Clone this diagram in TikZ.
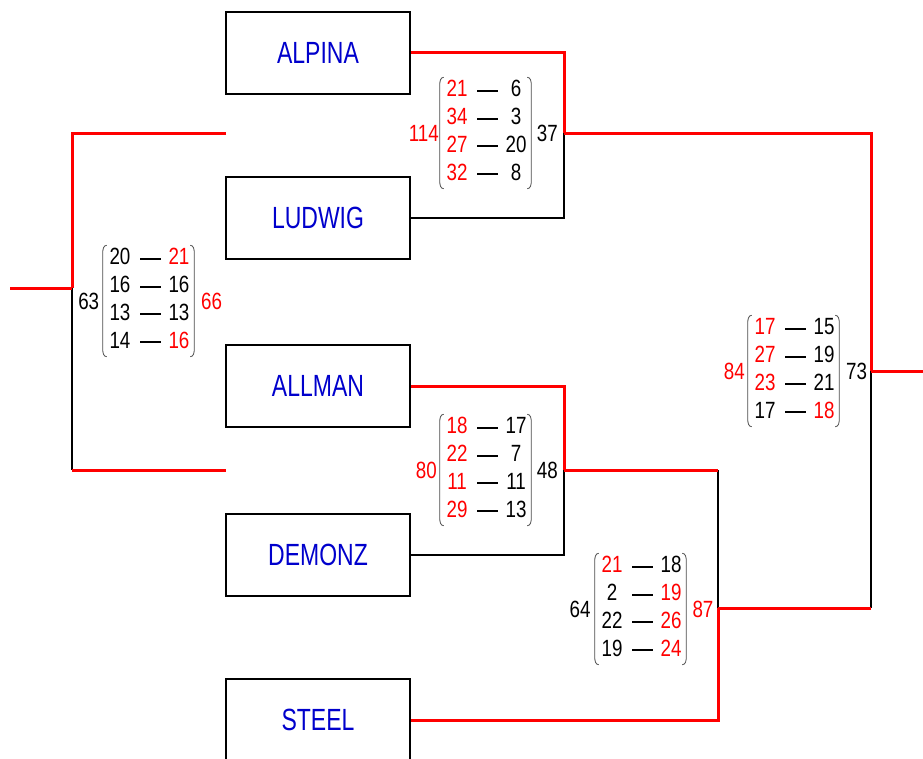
\documentclass[tikz,border=0pt]{standalone}
\usepackage{fontspec}
\setmainfont{Liberation Sans}[FakeStretch=0.75]
\newfontfamily\numfont{Liberation Sans}[FakeStretch=0.8]
\usepackage{array}
\usetikzlibrary{positioning}

\definecolor{teamblue}{RGB}{0,0,204}
\newcommand\win[1]{\textcolor{red}{#1}}
\newcommand\scoredash{\rule[3.8pt]{15.5pt}{1.5pt}}
\newcommand\scorerows[1]{\begin{tabular}{@{}wc{25.5pt}@{}wc{20.25pt}@{}wc{22.5pt}@{}}#1\end{tabular}}
\newcommand\parens[1]{%
  \draw[paren] ([xshift=3pt]#1.north west) to[out=180,in=90] ([yshift=-6pt]#1.north west)
    -- ([yshift=6pt]#1.south west) to[out=-90,in=180] ([xshift=3pt]#1.south west);
  \draw[paren] ([xshift=-3pt]#1.north east) to[out=0,in=90] ([yshift=-6pt]#1.north east)
    -- ([yshift=6pt]#1.south east) to[out=-90,in=0] ([xshift=-3pt]#1.south east);}

\begin{document}
\begin{tikzpicture}[x=0.75pt,y=-0.75pt,
        team/.style={draw, line width=1.5pt, minimum width=138pt, minimum height=61.5pt, inner sep=0pt,
                     text=teamblue, font=\fontsize{23}{26}\selectfont},
        scores/.style={inner sep=0pt, font=\numfont\fontsize{17.6}{20.8}\selectfont},
        total/.style={inner sep=0pt, font=\numfont\fontsize{17.6}{20}\selectfont},
        winline/.style={red, line width=2.25pt},
        loseline/.style={black, line width=1.5pt},
        paren/.style={gray!60!black, line width=0.6pt},
        ]
            \clip (0,0) rectangle (923,758);

            % teams
            \node[team] at(318,52.5) (alpina) {ALPINA};
            \node[team] at(318,218)  (ludwig) {LUDWIG};
            \node[team] at(318,386)  (allman) {ALLMAN};
            \node[team] at(318,554.5) (demonz) {DEMONZ};
            \node[team] at(318,720)  (steel)  {STEEL};

            % junctions
            \coordinate (j1) at (564,133);
            \coordinate (j2) at (564,470);
            \coordinate (k3) at (718,470);
            \coordinate (j3) at (718,608);
            \coordinate (k4) at (871,608);
            \coordinate (j4) at (871,371);
            \coordinate (champ) at (923,371);
            \coordinate (a1) at (226,133);
            \coordinate (a2) at (226,470);
            \coordinate (jl) at (72,288);
            \coordinate (b2) at (72,470);
            \coordinate (start) at (10,288);

            \draw[loseline] (ludwig.east) -| (j1);
            \draw[loseline] (demonz.east) -| (j2);
            \draw[loseline] (k3) -- (j3);
            \draw[loseline] (k4) -- (j4);
            \draw[loseline] (jl) -- (b2);

            \draw[winline] (alpina.east) -| (j1);
            \draw[winline] (j1) -| (j4);
            \draw[winline] (j4) -- (champ);
            \draw[winline] (allman.east) -| (j2);
            \draw[winline] (j2) -- (k3);
            \draw[winline] (steel.east) -| (j3);
            \draw[winline] (j3) -- (k4);
            \draw[winline] (a1) -| (jl);
            \draw[winline] (b2) -- (a2);
            \draw[winline] (jl) -- (start);

            % scores
            \node[scores] at(485.5,133) (m1) {\scorerows{\win{21} & \scoredash & 6\\ \win{34} & \scoredash & 3\\ \win{27} & \scoredash & 20\\ \win{32} & \scoredash & 8}};
            \node[total, red, left=0.5pt of m1] (m1l) {114};
            \node[total, right=4pt of m1] (m1r) {37};
            \parens{m1}

            \node[scores] at(148.5,301) (m2) {\scorerows{20 & \scoredash & \win{21}\\ 16 & \scoredash & 16\\ 13 & \scoredash & 13\\ 14 & \scoredash & \win{16}}};
            \node[total, left=2.5pt of m2] (m2l) {63};
            \node[total, red, right=5pt of m2] (m2r) {66};
            \parens{m2}

            \node[scores] at(485.5,470) (m3) {\scorerows{\win{18} & \scoredash & 17\\ \win{22} & \scoredash & 7\\ \win{11} & \scoredash & 11\\ \win{29} & \scoredash & 13}};
            \node[total, red, left=2pt of m3] (m3l) {80};
            \node[total, right=4pt of m3] (m3r) {48};
            \parens{m3}

            \node[scores] at(640.5,609) (m4) {\scorerows{\win{21} & \scoredash & 18\\ 2 & \scoredash & \win{19}\\ 22 & \scoredash & \win{26}\\ 19 & \scoredash & \win{24}}};
            \node[total, left=3pt of m4] (m4l) {64};
            \node[total, red, right=4.5pt of m4] (m4r) {87};
            \parens{m4}

            \node[scores] at(793.5,371) (m5) {\scorerows{\win{17} & \scoredash & 15\\ \win{27} & \scoredash & 19\\ \win{23} & \scoredash & 21\\ 17 & \scoredash & \win{18}}};
            \node[total, red, left=2pt of m5] (m5l) {84};
            \node[total, right=5pt of m5] (m5r) {73};
            \parens{m5}

            \end{tikzpicture}
\end{document}
